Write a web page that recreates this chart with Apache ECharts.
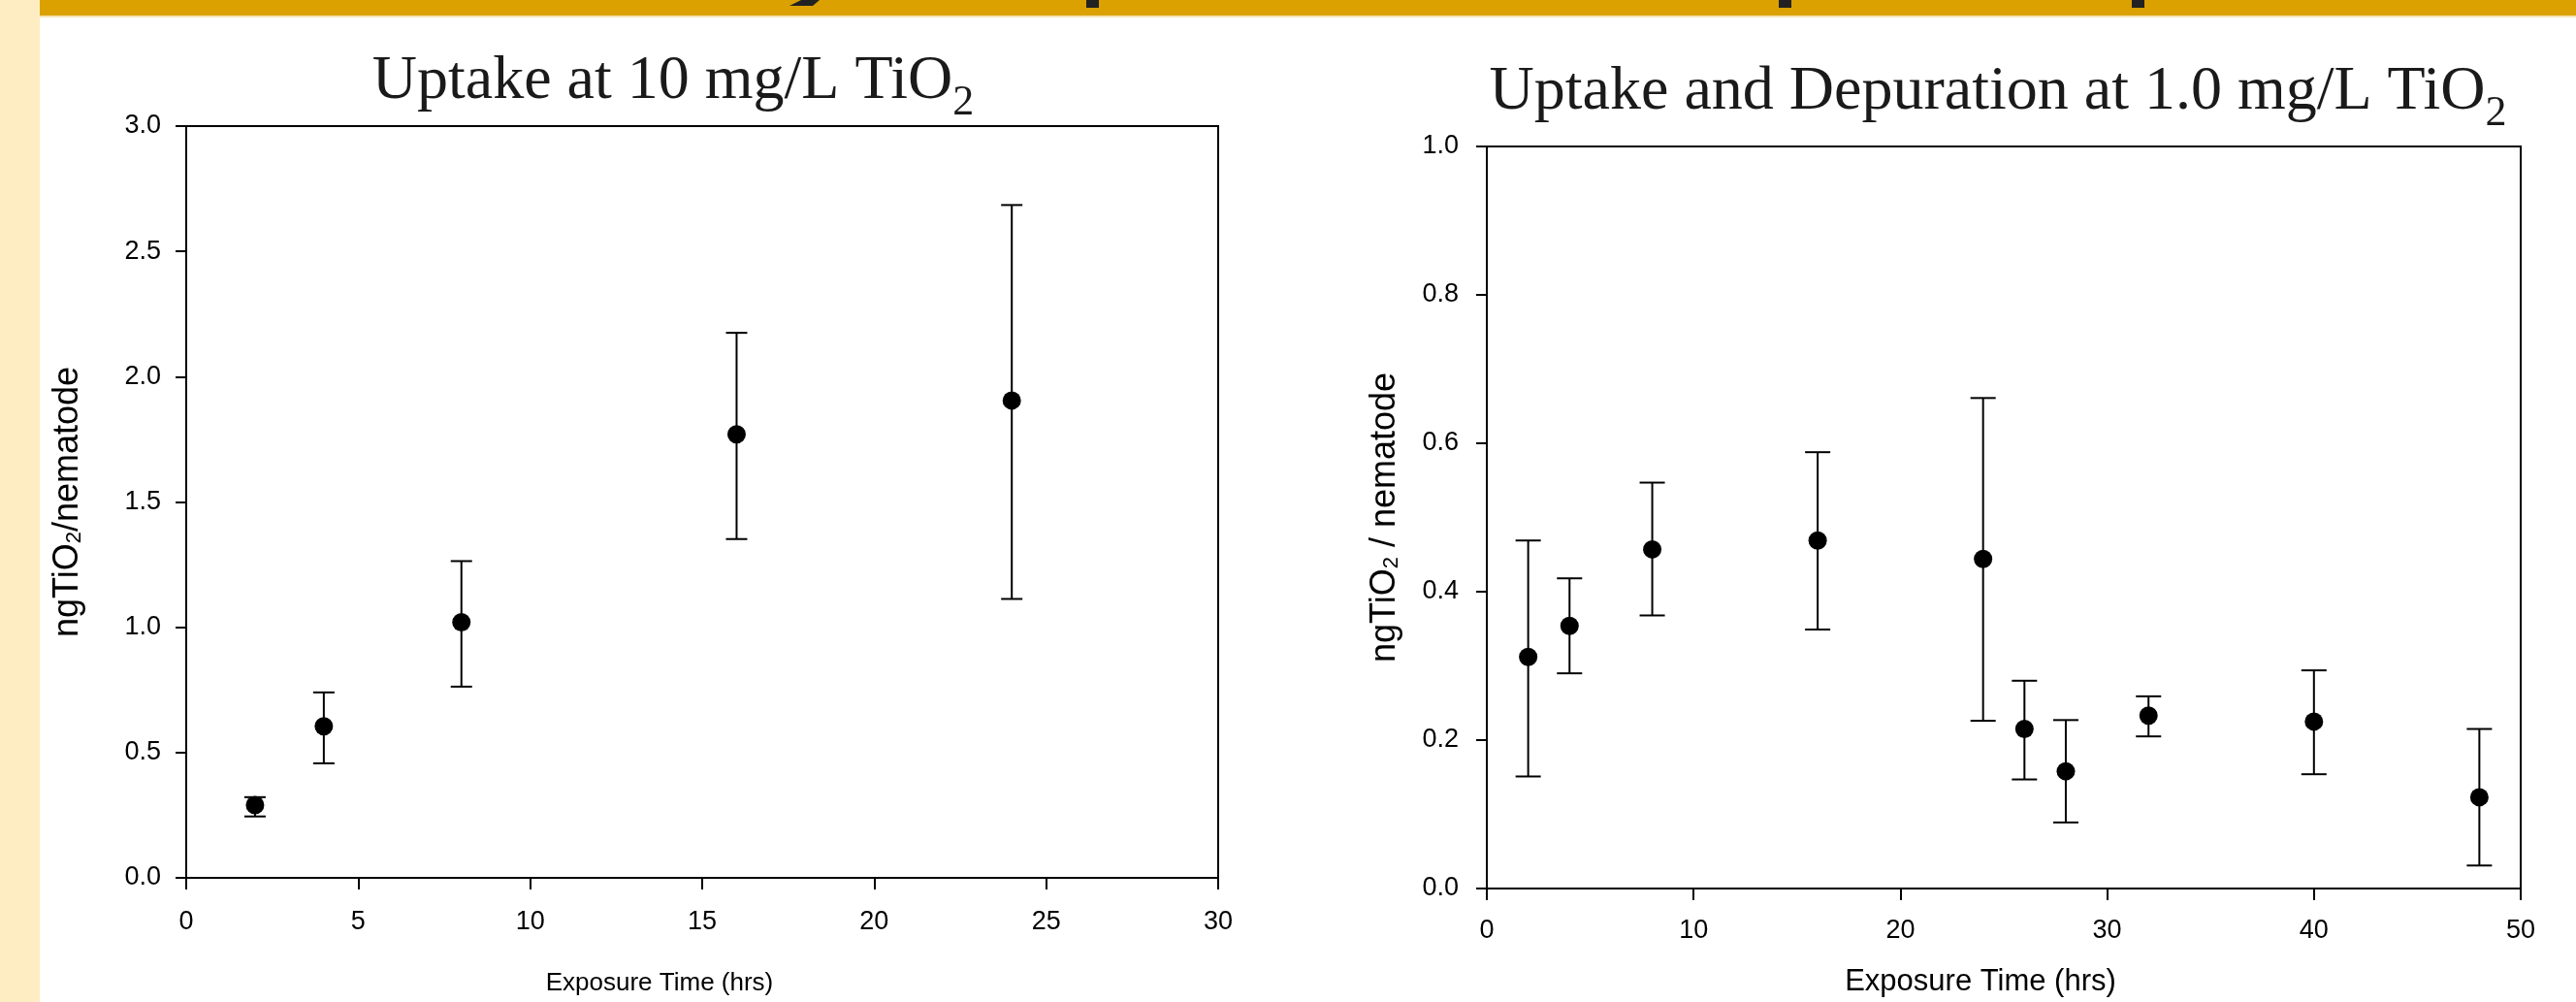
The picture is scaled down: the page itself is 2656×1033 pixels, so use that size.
<!DOCTYPE html>
<html>
<head>
<meta charset="utf-8">
<script src="https://cdn.jsdelivr.net/npm/echarts@6/dist/echarts.min.js"></script>
<style>
html,body{margin:0;padding:0;background:#fff;}
#chart{width:2656px;height:1033px;}
</style>
</head>
<body>
<div id="chart"></div>
<script>
// ---- Data ----
var leftTime = [2, 4, 8, 16, 24];
var leftMean = [0.29, 0.605, 1.02, 1.77, 1.905];
var leftLow  = [0.245, 0.457, 0.763, 1.352, 1.113];
var leftHigh = [0.322, 0.74, 1.264, 2.175, 2.685];

var rightTime = [2, 4, 8, 16, 24, 26, 28, 32, 40, 48];
var rightMean = [0.312, 0.354, 0.457, 0.469, 0.444, 0.215, 0.158, 0.233, 0.225, 0.123];
var rightLow  = [0.151, 0.290, 0.368, 0.349, 0.226, 0.147, 0.089, 0.205, 0.154, 0.031];
var rightHigh = [0.469, 0.418, 0.547, 0.588, 0.661, 0.280, 0.227, 0.259, 0.294, 0.215];

var leftTitle = 'Uptake at 10 mg/L TiO';
var rightTitle = 'Uptake and Depuration at 1.0 mg/L TiO';
var xName = 'Exposure Time (hrs)';

// ---- Build ----
function pairs(xs, ys){ return xs.map(function(x,i){ return [x, ys[i]]; }); }
function triples(xs, lo, hi){ return xs.map(function(x,i){ return [x, lo[i], hi[i]]; }); }

function errRender(cap){
  return function(params, api){
    var x = api.value(0), lo = api.value(1), hi = api.value(2);
    var pH = api.coord([x, hi]), pL = api.coord([x, lo]);
    var st = {stroke:'#000', lineWidth:2};
    return {type:'group', children:[
      {type:'line', shape:{x1:pH[0], y1:pH[1], x2:pL[0], y2:pL[1]}, style:st},
      {type:'line', shape:{x1:pH[0]-cap/2, y1:pH[1], x2:pH[0]+cap/2, y2:pH[1]}, style:st},
      {type:'line', shape:{x1:pL[0]-cap/2, y1:pL[1], x2:pL[0]+cap/2, y2:pL[1]}, style:st}
    ]};
  };
}

var sans = 'Liberation Sans';
var serif = 'Liberation Serif';

function titleRich(){
  return {
    a:{fontFamily:serif, fontSize:64, fontWeight:'normal', color:'#1a1a1a', lineHeight:76, verticalAlign:'top', padding:[0,0,11,0]},
    s:{fontFamily:serif, fontSize:44, fontWeight:'normal', color:'#1a1a1a', lineHeight:34, verticalAlign:'bottom'}
  };
}
function nameRich(sz){
  return {
    a:{fontFamily:sans, fontSize:sz, color:'#000', lineHeight:sz+6, verticalAlign:'bottom'},
    s:{fontFamily:sans, fontSize:Math.round(sz*0.62), color:'#000', lineHeight:Math.round(sz*0.62), verticalAlign:'bottom'}
  };
}

function xAxis(idx, max, interval, margin, gap, nsz, shift){
  return {
    type:'value', gridIndex:idx, min:0, max:max, interval:interval,
    name:xName, nameLocation:'middle', nameGap:gap,
    nameTextStyle:{fontFamily:sans, fontSize:nsz, color:'#000', padding:[0, shift*2, 0, 0]},
    axisLine:{show:true, lineStyle:{color:'#000', width:2}},
    axisTick:{show:true, inside:false, length:12, lineStyle:{color:'#000', width:2}},
    axisLabel:{fontFamily:sans, fontSize:27, color:'#000', margin:margin},
    splitLine:{show:false}
  };
}
function yAxis(idx, max, interval, margin, gap, nameText, nsz){
  return {
    type:'value', gridIndex:idx, min:0, max:max, interval:interval,
    name:nameText, nameLocation:'middle', nameGap:gap, nameRotate:90,
    nameTextStyle:{rich:nameRich(nsz)},
    axisLine:{show:true, lineStyle:{color:'#000', width:2}},
    axisTick:{show:true, inside:false, length:11, lineStyle:{color:'#000', width:2}},
    axisLabel:{fontFamily:sans, fontSize:27, color:'#000', margin:margin,
      formatter:function(v){ return v.toFixed(1); }},
    splitLine:{show:false}
  };
}

var option = {
  backgroundColor:'#ffffff',
  animation:false,
  graphic:[
    {type:'rect', shape:{x:0, y:0, width:41, height:1033}, style:{fill:'#FEEDC2'}, z:-10},
    {type:'rect', shape:{x:41, y:0, width:2615, height:16}, style:{fill:'#DBA100'}, z:-10},
    {type:'rect', shape:{x:41, y:16, width:2615, height:2}, style:{fill:'#F4E4B4'}, z:-10},
    {type:'polygon', shape:{points:[[826,0],[845,0],[838,6],[814,6]]}, style:{fill:'#222'}, z:-9},
    {type:'rect', shape:{x:1120, y:0, width:13, height:8}, style:{fill:'#222'}, z:-9},
    {type:'rect', shape:{x:1834, y:0, width:13, height:8}, style:{fill:'#222'}, z:-9},
    {type:'rect', shape:{x:2198, y:0, width:13, height:8}, style:{fill:'#222'}, z:-9}
  ],
  title:[
    {text:'{a|' + leftTitle + '}{s|2}', left:689, top:47, textAlign:'center',
     textStyle:{rich:titleRich()}},
    {text:'{a|' + rightTitle + '}{s|2}', left:2055, top:58, textAlign:'center',
     textStyle:{rich:titleRich()}}
  ],
  grid:[
    {left:192, top:130, width:1064, height:775, show:true, borderColor:'#000', borderWidth:2, backgroundColor:'transparent'},
    {left:1533, top:151, width:1066, height:767, show:true, borderColor:'#000', borderWidth:2, backgroundColor:'transparent'}
  ],
  xAxis:[
    xAxis(0, 30, 5, 32, 96, 26, 44),
    xAxis(1, 50, 10, 30, 81, 31, 24)
  ],
  yAxis:[
    yAxis(0, 3, 0.5, 26, 104, '{a|ngTiO}{s|2}{a|/nematode}', 36),
    yAxis(1, 1, 0.2, 29, 87, '{a|ngTiO}{s|2}{a| / nematode}', 36)
  ],
  series:[
    {type:'custom', xAxisIndex:0, yAxisIndex:0, renderItem:errRender(22),
     data:triples(leftTime, leftLow, leftHigh), encode:{x:0, y:[1,2]}, z:2, silent:true},
    {type:'scatter', xAxisIndex:0, yAxisIndex:0, symbol:'circle', symbolSize:19,
     itemStyle:{color:'#000', opacity:1}, data:pairs(leftTime, leftMean), z:3},
    {type:'custom', xAxisIndex:1, yAxisIndex:1, renderItem:errRender(26),
     data:triples(rightTime, rightLow, rightHigh), encode:{x:0, y:[1,2]}, z:2, silent:true},
    {type:'scatter', xAxisIndex:1, yAxisIndex:1, symbol:'circle', symbolSize:19,
     itemStyle:{color:'#000', opacity:1}, data:pairs(rightTime, rightMean), z:3}
  ]
};

var chart = echarts.init(document.getElementById('chart'), null, {renderer:'canvas'});
chart.setOption(option);
</script>
</body>
</html>
